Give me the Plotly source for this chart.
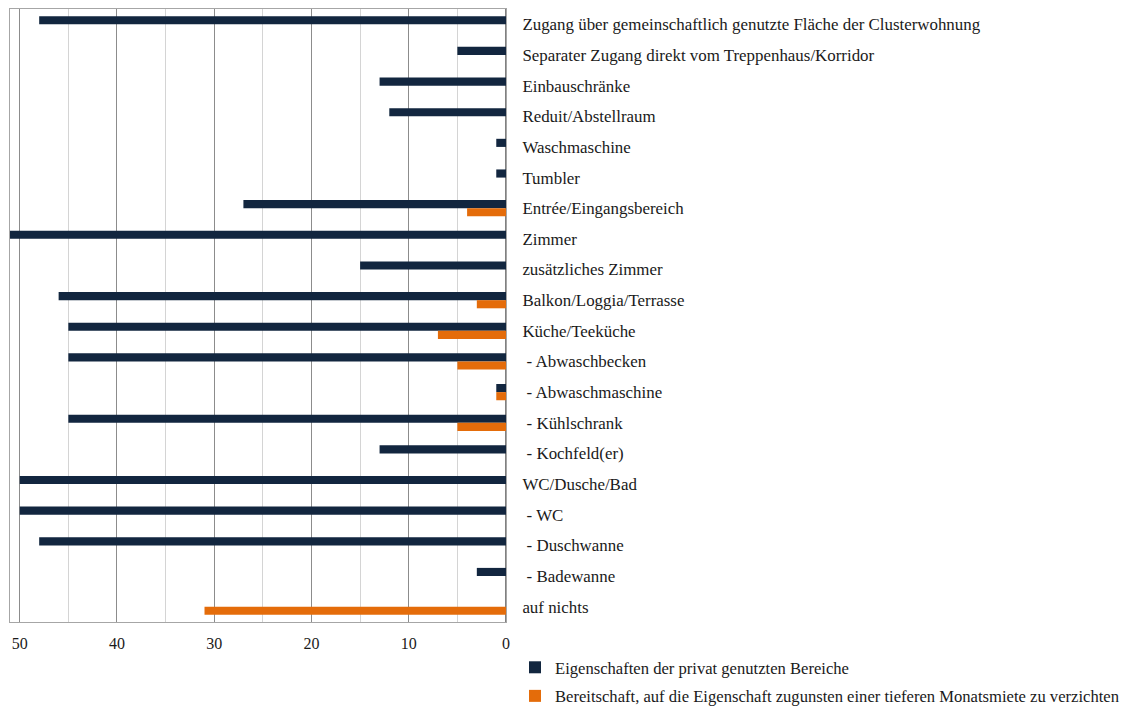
import plotly.graph_objects as go

categories = [
    "Zugang über gemeinschaftlich genutzte Fläche der Clusterwohnung",
    "Separater Zugang direkt vom Treppenhaus/Korridor",
    "Einbauschränke",
    "Reduit/Abstellraum",
    "Waschmaschine",
    "Tumbler",
    "Entrée/Eingangsbereich",
    "Zimmer",
    "zusätzliches Zimmer",
    "Balkon/Loggia/Terrasse",
    "Küche/Teeküche",
    " - Abwaschbecken",
    " - Abwaschmaschine",
    " - Kühlschrank",
    " - Kochfeld(er)",
    "WC/Dusche/Bad",
    " - WC",
    " - Duschwanne",
    " - Badewanne",
    "auf nichts",
]
privat = [48, 5, 13, 12, 1, 1, 27, 51, 15, 46, 45, 45, 1, 45, 13, 50, 50, 48, 3, 0]
verzicht = [0, 0, 0, 0, 0, 0, 4, 0, 0, 3, 7, 5, 1, 5, 0, 0, 0, 0, 0, 31]

series_names = [
    "Eigenschaften der privat genutzten Bereiche",
    "Bereitschaft, auf die Eigenschaft zugunsten einer tieferen Monatsmiete zu verzichten",
]

FONT = "Liberation Serif"
W, H = 1128, 706
L, R, T, B = 10, 622, 9, 84
PW, PH = W - L - R, H - T - B

fig = go.Figure()
fig.add_trace(go.Bar(
    y=categories, x=privat, orientation="h", name=series_names[0],
    marker=dict(color="#12263F", line=dict(width=0)), legendgroup="a",
))
fig.add_trace(go.Bar(
    y=categories, x=verzicht, orientation="h", name=series_names[1],
    marker=dict(color="#E46C0A", line=dict(width=0)), legendgroup="b",
))

fig.update_layout(
    width=W, height=H,
    margin=dict(l=L, r=R, t=T, b=B, autoexpand=False),
    barmode="group", bargap=0.47, bargroupgap=0,
    paper_bgcolor="white", plot_bgcolor="white",
    font=dict(family=FONT, size=16, color="#1a1a1a"),
    showlegend=True,
    legend=dict(
        x=(515 - L) / PW, y=1 - (650 - T) / PH, xanchor="left", yanchor="top",
        font=dict(family=FONT, size=16.6, color="#1a1a1a"),
        tracegroupgap=4, itemwidth=30,
        bgcolor="rgba(0,0,0,0)",
    ),
)
fig.update_xaxes(
    range=[51, 0], tickmode="linear", tick0=0, dtick=10, automargin=False,
    showgrid=True, gridcolor="#8c8c8c", gridwidth=1,
    minor=dict(tickmode="linear", tick0=0, dtick=5, showgrid=True,
               gridcolor="#d4d4d4", gridwidth=1),
    showline=True, linecolor="#a6a6a6", linewidth=1, mirror=True,
    zeroline=True, zerolinecolor="#808080", zerolinewidth=2,
    ticks="outside", ticklen=7, tickcolor="rgba(0,0,0,0)",
    tickfont=dict(family=FONT, size=16, color="#1a1a1a"),
)
fig.update_yaxes(
    categoryorder="array", categoryarray=categories, automargin=False,
    autorange="reversed", side="right",
    showgrid=False, showline=True, linecolor="#a6a6a6", mirror=True,
    ticks="outside", ticklen=12, tickcolor="rgba(0,0,0,0)",
    tickfont=dict(family=FONT, size=16.9, color="#1a1a1a"),
)

fig.write_html("out.html")
